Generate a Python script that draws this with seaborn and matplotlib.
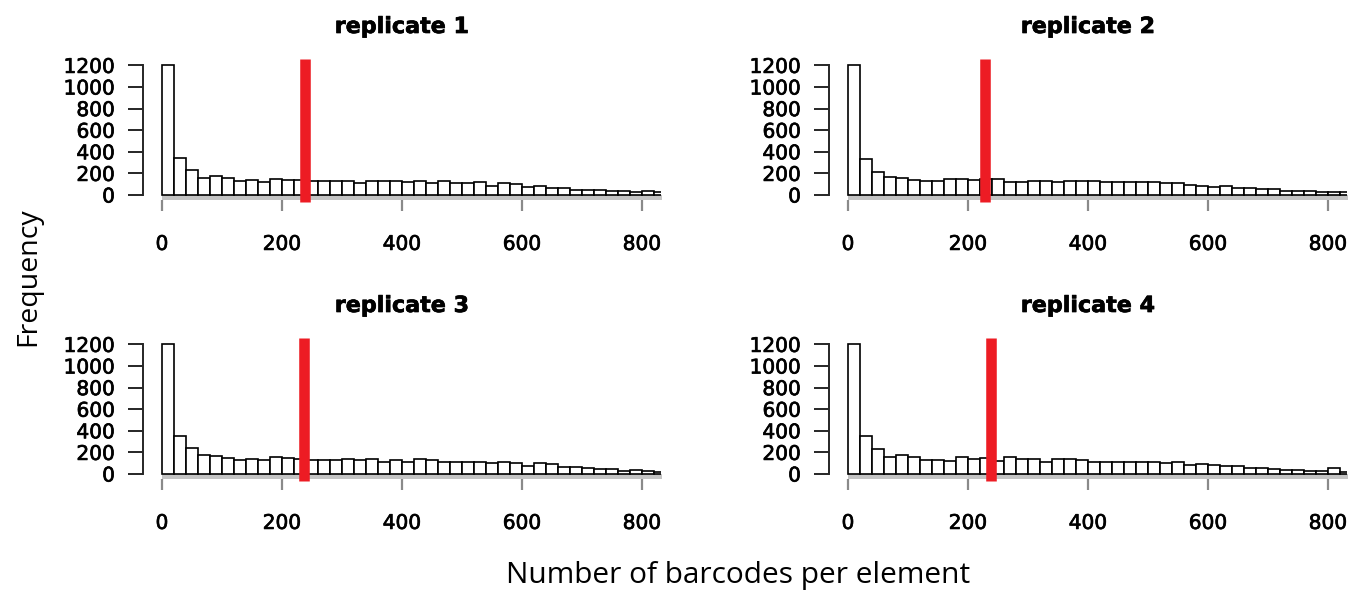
import numpy as np
import pandas as pd
import matplotlib
matplotlib.use("Agg")
import matplotlib.pyplot as plt
import matplotlib.patheffects as pe
import seaborn as sns

# Histogram bins: barcodes per element, width 20
bin_edges = list(range(0, 841, 20))
bin_mids = [e + 10 for e in bin_edges[:-1]]

rep1_counts = [1200, 342, 229, 153, 174, 153, 131, 138, 122, 147,
               138, 138, 128, 128, 128, 128, 107, 131, 131, 131,
               122, 128, 113, 128, 107, 107, 122, 86, 107, 101,
               76, 86, 67, 67, 46, 46, 46, 37, 37, 30,
               37, 25]
rep2_counts = [1200, 336, 214, 168, 153, 138, 128, 128, 144, 144,
               138, 147, 147, 116, 122, 128, 128, 122, 128, 128,
               131, 122, 122, 116, 116, 116, 107, 107, 92, 86,
               76, 86, 61, 61, 52, 52, 40, 40, 37, 30,
               30, 25]
rep3_counts = [1200, 350, 241, 174, 165, 152, 128, 137, 128, 159,
               149, 137, 134, 128, 128, 137, 128, 137, 113, 134,
               113, 137, 128, 113, 113, 113, 113, 98, 113, 98,
               73, 98, 91, 61, 61, 52, 49, 43, 30, 40,
               30, 21]
rep4_counts = [1200, 350, 235, 159, 174, 159, 134, 134, 119, 159,
               137, 149, 119, 159, 137, 137, 113, 137, 137, 134,
               113, 113, 113, 113, 113, 107, 98, 113, 82, 91,
               82, 76, 73, 58, 58, 49, 40, 37, 30, 27,
               52, 21]

titles = ["replicate 1", "replicate 2", "replicate 3", "replicate 4"]
thresholds = [239, 228, 236, 238]
x_ticks = [0, 200, 400, 600, 800]
y_ticks = [0, 200, 400, 600, 800, 1000, 1200]

sns.set_theme(style="ticks")
plt.rcParams["font.family"] = ["DejaVu Sans"]
plt.rcParams["text.color"] = "black"

W, H = 1353, 592
fig = plt.figure(figsize=(W / 100, H / 100), dpi=100)
fig.patch.set_facecolor("white")

# pixel scale and pixel location of the data origin of each panel
px_x, px_y = 0.6, 0.108
xlim, ylim = (-32, 832), (-48, 1248)
origins = [(162, 195), (848, 195), (162, 474), (848, 474)]
all_counts = [rep1_counts, rep2_counts, rep3_counts, rep4_counts]
heavier = [pe.withStroke(linewidth=0.5, foreground="black")]

for counts, title, thr, (ox, oy) in zip(all_counts, titles, thresholds, origins):
    left = ox + xlim[0] * px_x
    width = (xlim[1] - xlim[0]) * px_x
    bottom_px = oy - ylim[0] * px_y
    height = (ylim[1] - ylim[0]) * px_y
    ax = fig.add_axes([left / W, 1 - bottom_px / H, width / W, height / H])
    ax.set_facecolor("white")

    df = pd.DataFrame({"barcodes": bin_mids, "n": counts})
    # light grey strip under the bars
    ax.fill_between([0, 840], ylim[0], 0, color="#c4c4c4", lw=0, zorder=0.5)
    sns.histplot(data=df, x="barcodes", weights="n", bins=bin_edges, ax=ax,
                 color="white", edgecolor="black", linewidth=1.2, alpha=1,
                 zorder=2)
    ax.plot([thr, thr], [-68, 1256], color="#ed1c24", lw=7.6,
            solid_capstyle="butt", clip_on=False, zorder=3)

    ax.set_xlim(*xlim)
    ax.set_ylim(*ylim)
    ax.set_xticks(x_ticks)
    ax.set_yticks(y_ticks)
    ax.set_xlabel("")
    ax.set_ylabel("")
    for s in ("top", "right", "bottom"):
        ax.spines[s].set_visible(False)
    ax.spines["left"].set_bounds(0, 1200)
    ax.spines["left"].set_color("#262626")
    ax.spines["left"].set_linewidth(1.4)
    ax.tick_params(axis="x", direction="out", length=8, width=1.6,
                   color="#8a8a8a", pad=17, labelsize=14.5, labelcolor="black")
    ax.tick_params(axis="y", direction="out", length=11, width=1.4,
                   color="#262626", pad=9, labelsize=14.5, labelcolor="black")
    for lab in ax.get_xticklabels() + ax.get_yticklabels():
        lab.set_path_effects(heavier)
    fig.text((ox + 400 * px_x) / W, 1 - (oy - 168) / H, title,
             ha="center", va="center", fontsize=16, fontweight="bold",
             color="black", path_effects=heavier)

fig.text(28 / W, 1 - 277 / H, "Frequency", rotation=90, ha="center",
         va="center", fontsize=20.5, family=["Open Sans", "DejaVu Sans"],
         color="black")
fig.text(738 / W, 1 - 576 / H, "Number of barcodes per element", ha="center",
         va="center", fontsize=21.5, family=["Open Sans", "DejaVu Sans"],
         color="black")

fig.savefig("out.png", dpi=100, facecolor="white")
